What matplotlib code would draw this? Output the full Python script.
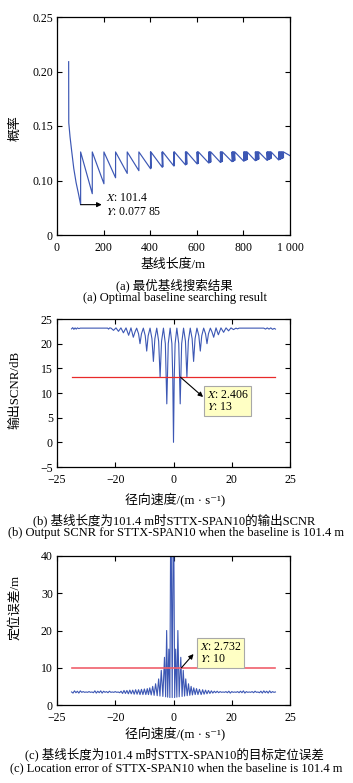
import matplotlib
matplotlib.use('Agg')
import matplotlib.pyplot as plt

plt.rcParams['font.family'] = ['Liberation Serif', 'DejaVu Serif', 'Noto Sans CJK SC']
plt.rcParams['mathtext.fontset'] = 'stix'

# ---------------- data (a) ----------------
baseline_m = [50, 50.5, 56, 63, 72, 82, 92, 101.4,
              101.4, 151.4, 151.4, 201.4, 201.4, 251.4, 251.4, 301.4, 301.4, 351.4,
              351.4, 401.4, 401.4, 403, 403, 451.4, 451.4, 454, 454, 501.4,
              501.4, 504, 504, 551.4,
              551.4, 554, 554, 557, 557, 601.4,
              601.4, 604, 604, 607, 607, 651.4,
              651.4, 654, 654, 657, 657, 660, 660, 701.4,
              701.4, 704, 704, 707, 707, 710, 710, 751.4,
              751.4, 754, 754, 757, 757, 760, 760, 763, 763, 801.4,
              801.4, 804, 804, 807, 807, 810, 810, 813, 813, 816, 816, 851.4,
              851.4, 854, 854, 857, 857, 860, 860, 863, 863, 866, 866, 901.4,
              901.4, 904, 904, 907, 907, 910, 910, 913, 913, 916, 916, 919, 919, 951.4,
              951.4, 954, 954, 957, 957, 960, 960, 963, 963, 966, 966, 969, 969, 972, 972, 1000]
prob = [0.209, 0.153, 0.140, 0.127, 0.111, 0.098, 0.088, 0.07785,
        0.1262, 0.0879, 0.1262, 0.0970, 0.1262, 0.1025, 0.1262, 0.1065, 0.1262, 0.1090,
        0.1262, 0.1108, 0.1262, 0.1112, 0.1262, 0.1122, 0.1262, 0.1125, 0.1262, 0.1133,
        0.1262, 0.1136, 0.1262, 0.1143,
        0.1262, 0.1146, 0.1262, 0.1149, 0.1262, 0.1152,
        0.1262, 0.1155, 0.1262, 0.1158, 0.1262, 0.1160,
        0.1262, 0.1163, 0.1262, 0.1166, 0.1262, 0.1169, 0.1262, 0.1166,
        0.1262, 0.1169, 0.1262, 0.1172, 0.1262, 0.1175, 0.1262, 0.1172,
        0.1262, 0.1175, 0.1262, 0.1178, 0.1262, 0.1181, 0.1262, 0.1184, 0.1262, 0.1177,
        0.1262, 0.1180, 0.1262, 0.1183, 0.1262, 0.1186, 0.1262, 0.1189, 0.1262, 0.1192, 0.1262, 0.1181,
        0.1262, 0.1184, 0.1262, 0.1187, 0.1262, 0.1190, 0.1262, 0.1193, 0.1262, 0.1196, 0.1262, 0.1185,
        0.1262, 0.1188, 0.1262, 0.1191, 0.1262, 0.1194, 0.1262, 0.1197, 0.1262, 0.1200, 0.1262, 0.1203, 0.1262, 0.1188,
        0.1262, 0.1191, 0.1262, 0.1194, 0.1262, 0.1197, 0.1262, 0.1200, 0.1262, 0.1203, 0.1262, 0.1206, 0.1262, 0.1209, 0.1262, 0.1228]
a_yticks = [0.05, 0.10, 0.15, 0.20, 0.25]
a_yticklabels = ['0', '0.10', '0.15', '0.20', '0.25']
a_xticks = [0, 200, 400, 600, 800, 1000]
a_xticklabels = ['0', '200', '400', '600', '800', '1 000']

# ---------------- data (b) ----------------
v_b = [-35.0, -34.6, -34.2, -33.8, -33.4, -33.0, -32.5, -32.0, -22.6, -22.3, -21.9, -21.45,
       -20.6, -19.75, -18.9, -18.05, -17.2, -16.3, -15.4, -14.6, -13.8, -13.2, -12.65, -12.0,
       -11.5, -11.0, -10.35, -9.7, -9.2, -8.7, -8.05, -7.4, -6.9, -6.4, -5.75, -5.1, -4.6,
       -4.1, -3.45, -2.8, -2.3, -1.8, -1.15, -0.55, -0.25, 0.0,
       0.25, 0.55, 1.15, 1.8, 2.3, 2.8, 3.45, 4.1, 4.6, 5.1, 5.75, 6.4, 6.9, 7.4, 8.05, 8.7,
       9.2, 9.7, 10.35, 11.0, 11.5, 12.0, 12.65, 13.2, 13.8, 14.6, 15.4, 16.3, 17.2, 18.05,
       18.9, 19.75, 20.6, 21.45, 22.0, 22.5, 31.0, 31.6, 32.2, 32.8, 33.4, 34.0, 34.6, 35.0]
scnr_b = [23.0, 23.25, 22.9, 23.2, 22.95, 23.2, 23.05, 23.15, 23.15, 22.95, 23.2, 23.15,
          22.7, 23.2, 22.5, 23.2, 22.2, 23.2, 21.7, 23.2, 21.3, 22.4, 23.15, 22.0,
          20.0, 22.0, 23.15, 21.6, 18.5, 21.6, 23.15, 21.0, 16.4, 21.0, 23.15, 20.5, 13.2,
          20.5, 23.15, 20.0, 7.8, 20.0, 23.15, 20.0, 13.0, 0.0,
          13.0, 20.0, 23.15, 20.0, 7.8, 20.0, 23.15, 20.5, 13.2, 20.5, 23.15, 21.0, 16.4, 21.0, 23.15, 21.6,
          18.5, 21.6, 23.15, 22.0, 20.0, 22.0, 23.15, 22.4, 21.3, 23.2, 21.8, 23.2, 22.3, 23.2,
          22.6, 23.2, 22.85, 23.15, 23.0, 23.15, 23.15, 22.95, 23.2, 22.95, 23.2, 22.9, 23.1, 22.95]
b_threshold = 13.2
b_xticks = [-40, -20, 0, 20, 40]
b_xticklabels = ['\u221225', '\u221220', '0', '20', '25']
b_yticks = [-5, 0, 5, 10, 15, 20, 25]
b_yticklabels = ['\u22125', '0', '5', '10', '15', '20', '25']

# ---------------- data (c) ----------------
v_c = [-35.0, -34.5, -34.0, -33.5, -33.0, -32.5, -32.0, -31.5, -31.0, -30.5, -30.0, -29.5,
       -29.0, -28.5, -28.0, -27.5, -27.0, -26.5, -26.0, -25.5, -25.0, -24.5, -24.0, -23.5,
       -23.0, -22.5, -22.0, -21.5, -21.0, -20.5, -20.0, -19.5, -19.0, -18.5, -18.0, -17.5,
       -17.0, -16.5, -16.0, -15.5, -15.0, -14.5, -14.0, -13.5, -13.0, -12.5, -12.0, -11.5,
       -11.0, -10.5, -10.0, -9.5,
       -9.0, -8.6, -8.15, -7.65, -7.15, -6.65, -6.15, -5.6, -5.1, -4.65, -4.2, -3.65, -3.1,
       -2.7, -2.35, -2.0, -1.6, -1.25, -0.9, -0.45, 0.0, 0.4, 0.75, 1.15, 1.5, 1.95, 2.5,
       2.95, 3.35, 3.8, 4.2, 4.7, 5.15, 5.6, 6.05, 6.5, 6.95, 7.45, 7.9, 8.4, 8.9,
       9.5, 10.0, 10.5, 11.0, 11.5, 12.0, 12.5, 13.0, 13.5, 14.0, 14.5, 15.0, 15.5, 16.0,
       16.5, 17.0, 17.5, 18.0, 18.5, 19.0, 19.5, 20.0, 20.5, 21.0, 21.5, 22.0, 22.5, 23.0,
       23.5, 24.0, 24.5, 25.0, 25.5, 26.0, 26.5, 27.0, 27.5, 28.0, 28.5, 29.0, 29.5, 30.0,
       30.5, 31.0, 31.5, 32.0, 32.5, 33.0, 33.5, 34.0, 34.5, 35.0]
err_c = [3.5, 3.2, 3.8, 3.3, 3.7, 3.2, 3.8, 3.4, 3.6, 3.4, 3.5, 3.4,
         3.6, 3.4, 3.5, 3.3, 3.8, 3.2, 3.7, 3.3, 3.8, 3.2, 3.7, 3.4,
         3.6, 3.3, 3.7, 3.4, 3.5, 3.4, 3.6, 3.4, 3.5, 3.3, 3.7, 3.1,
         3.9, 3.1, 3.9, 3.0, 4.0, 3.0, 4.0, 2.9, 4.1, 2.9, 4.1, 2.8,
         4.2, 2.8, 4.3, 2.8,
         4.4, 2.8, 4.6, 2.7, 5.0, 2.6, 5.7, 2.5, 7.0, 2.4, 9.3, 2.3, 12.8,
         2.2, 20.0, 2.1, 15.0, 2.0, 60.0, 2.0, 60.0, 2.0, 15.0, 2.1, 20.0, 2.2, 12.8,
         2.3, 9.3, 2.4, 7.0, 2.5, 5.7, 2.6, 5.0, 2.7, 4.6, 2.8, 4.4, 2.8, 4.2,
         2.8, 4.1, 2.9, 4.0, 3.0, 3.9, 3.1, 3.8, 3.2, 3.7, 3.3, 3.7, 3.3, 3.6,
         3.4, 3.5, 3.4, 3.6, 3.3, 3.7, 3.2, 3.6, 3.4, 3.5, 3.4, 3.6, 3.3, 3.7,
         3.3, 3.8, 3.2, 3.6, 3.4, 3.5, 3.4, 3.6, 3.3, 3.7, 3.4, 3.5, 3.3, 3.7,
         3.2, 3.8, 3.3, 3.7, 3.2, 3.8, 3.3, 3.6, 3.4, 3.5]
c_threshold = 10
c_xticks = [-40, -20, 0, 20, 40]
c_xticklabels = ['\u221225', '\u221220', '0', '20', '25']
c_yticks = [0, 10, 20, 30, 40]
c_yticklabels = ['0', '10', '20', '30', '40']

# ---------------- figure ----------------
W, H = 353, 783
fig = plt.figure(figsize=(W / 100, H / 100), dpi=100)
BLUE = '#3c57b4'
TICK_FS = 8.5
LAB_FS = 9.3
CAP_FS = 9


def ax_at(l, t, r, b):
    return fig.add_axes([l / W, 1 - b / H, (r - l) / W, (b - t) / H])


def style(ax):
    ax.tick_params(direction='in', top=True, right=True, length=3.5, width=0.8,
                   labelsize=TICK_FS)
    ax.tick_params(axis='x', pad=5)
    ax.tick_params(axis='y', pad=3)
    for s in ax.spines.values():
        s.set_linewidth(0.9)


def ftext(x, y, s, **kw):
    fig.text(x / W, 1 - y / H, s, ha='center', va='center', **kw)


XLAB_V = '径向速度/(m \u00b7 s\u207b\u00b9)'

# (a)
axa = ax_at(57, 17, 290, 235)
axa.plot(baseline_m, prob, color=BLUE, lw=0.85)
axa.set_xlim(0, 1000)
axa.set_ylim(0.05, 0.25)
axa.set_xticks(a_xticks, a_xticklabels)
axa.set_yticks(a_yticks, a_yticklabels)
style(axa)
axa.annotate('', xy=(0.192, 0.07785), xycoords=('axes fraction', 'data'),
             xytext=(101.4, 0.07785), textcoords='data',
             arrowprops=dict(arrowstyle='-|>', color='k', lw=0.8, shrinkA=0, shrinkB=0,
                             mutation_scale=7))
axa.text(0.21, 0.171, r'$\mathit{X}$: 101.4', transform=axa.transAxes, fontsize=TICK_FS,
         va='center', ha='left')
axa.text(0.21, 0.107, r'$\mathit{Y}$: 0.077 85', transform=axa.transAxes, fontsize=TICK_FS,
         va='center', ha='left')
ftext(15, 128, '概率', rotation=90, fontsize=LAB_FS)
ftext(173, 265, '基线长度/m', fontsize=LAB_FS)
ftext(174, 285, '(a) 最优基线搜索结果', fontsize=CAP_FS)
ftext(175, 298, '(a) Optimal baseline searching result', fontsize=CAP_FS)

# (b)
axb = ax_at(57, 319, 290, 467)
axb.plot(v_b, scnr_b, color=BLUE, lw=0.8)
axb.plot([min(v_b), max(v_b)], [b_threshold, b_threshold], color='#e82a2a', lw=0.9)
axb.set_xlim(-40, 40)
axb.set_ylim(-5, 25)
axb.set_xticks(b_xticks, b_xticklabels)
axb.set_yticks(b_yticks, b_yticklabels)
style(axb)
axb.annotate('', xy=(0.627, 0.473), xycoords='axes fraction',
             xytext=(2.406, b_threshold), textcoords='data',
             arrowprops=dict(arrowstyle='-|>', color='k', lw=0.8, shrinkA=0, shrinkB=0,
                             mutation_scale=7))
axb.text(0.642, 0.53, '$\\mathit{X}$: 2.406\n$\\mathit{Y}$: 13', transform=axb.transAxes,
         fontsize=TICK_FS, va='top', ha='left', linespacing=1.05,
         bbox=dict(boxstyle='square,pad=0.25', fc='#ffffc4', ec='#a8a8a8', lw=0.8))
ftext(15, 390, '输出SCNR/dB', rotation=90, fontsize=LAB_FS)
ftext(175, 499, XLAB_V, fontsize=LAB_FS)
ftext(174, 520, '(b) 基线长度为101.4 m时STTX-SPAN10的输出SCNR', fontsize=CAP_FS)
ftext(176, 533, '(b) Output SCNR for STTX-SPAN10 when the baseline is 101.4 m', fontsize=CAP_FS)

# (c)
axc = ax_at(57, 556, 290, 705)
axc.plot(v_c, err_c, color=BLUE, lw=0.8)
axc.plot([min(v_c), max(v_c)], [c_threshold, c_threshold], color='#f0606c', lw=1.2)
axc.set_xlim(-40, 40)
axc.set_ylim(0, 40)
axc.set_xticks(c_xticks, c_xticklabels)
axc.set_yticks(c_yticks, c_yticklabels)
style(axc)
axc.annotate('', xy=(0.586, 0.342), xycoords='axes fraction',
             xytext=(2.732, c_threshold), textcoords='data',
             arrowprops=dict(arrowstyle='-|>', color='k', lw=0.8, shrinkA=0, shrinkB=0,
                             mutation_scale=7))
axc.text(0.614, 0.43, '$\\mathit{X}$: 2.732\n$\\mathit{Y}$: 10', transform=axc.transAxes,
         fontsize=TICK_FS, va='top', ha='left', linespacing=1.05,
         bbox=dict(boxstyle='square,pad=0.25', fc='#ffffc4', ec='#a8a8a8', lw=0.8))
ftext(15, 607, '定位误差/m', rotation=90, fontsize=LAB_FS)
ftext(175, 733, XLAB_V, fontsize=LAB_FS)
ftext(174, 754, '(c) 基线长度为101.4 m时STTX-SPAN10的目标定位误差', fontsize=CAP_FS)
ftext(176, 768, '(c) Location error of STTX-SPAN10 when the baseline is 101.4 m', fontsize=CAP_FS)

fig.savefig('out.png', dpi=100)
